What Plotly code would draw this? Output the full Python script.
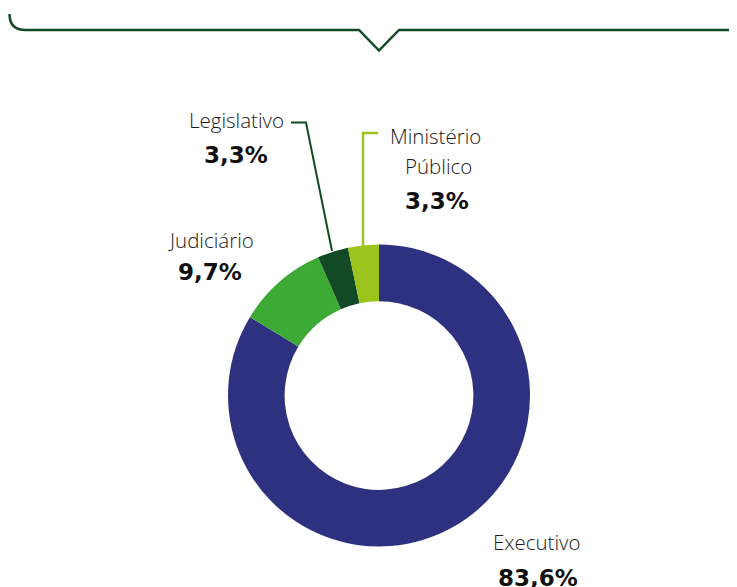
import plotly.graph_objects as go

# ---- data ----
labels = ["Executivo", "Judiciário", "Legislativo", "Ministério Público"]
values = [83.6, 9.7, 3.3, 3.3]
colors = ["#2D3180", "#3DAA35", "#114A24", "#9DC41C"]
label_lines = [["Executivo"], ["Judiciário"], ["Legislativo"], ["Ministério", "Público"]]

# page is rendered with an 8px body margin -> work in page pixels
OFF = 8
PW, PH = 737, 587
W, H = PW - OFF, PH - OFF
FONT_NAME = "Open Sans"
FONT_PCT = "DejaVu Sans"

def pct(v):
    return f"{v:.1f}".replace(".", ",") + "%"

# donut geometry (page pixels)
cx, cy, R = 379, 395.5, 151

fig = go.Figure()
fig.add_trace(go.Pie(
    labels=labels, values=values, sort=False, direction="clockwise", rotation=0,
    hole=0.625, marker=dict(colors=colors, line=dict(width=0)),
    textinfo="none", hoverinfo="label+percent", showlegend=False,
    domain=dict(x=[(cx - R - OFF) / W, (cx + R - OFF) / W],
                y=[1 - (cy + R - OFF) / H, 1 - (cy - R - OFF) / H]),
))

# label placement (page pixels): first name line centre, percent centre
name_pos = [(537, 542), (211, 240), (236.5, 120), (435, 136)]
pct_pos = [(538, 578), (210, 272), (236, 155), (437, 201)]
LINE = 30

ann = []
for lines, v, (nx, ny), (px, py) in zip(label_lines, values, name_pos, pct_pos):
    for i, ln in enumerate(lines):
        ann.append(dict(x=nx + (3 * i), y=ny + LINE * i, xref="x", yref="y", text=ln, showarrow=False,
                        font=dict(family=FONT_NAME, size=20.5, color="#1a1a1a", weight=300),
                        xanchor="center", yanchor="middle", align="center"))
    ann.append(dict(x=px, y=py, xref="x", yref="y", text=f"<b>{pct(v)}</b>", showarrow=False,
                    font=dict(family=FONT_PCT, size=23, color="#111111"),
                    xanchor="center", yanchor="middle"))

shapes = [
    # top bracket with notch
    dict(type="path", xref="x", yref="y",
         path="M 9.5 14 Q 9.5 30 25.5 30 L 359 30 L 379 50.5 L 399 30 L 732.5 30 Q 748.5 30 748.5 14",
         line=dict(color="#114A24", width=2.5)),
    # Legislativo leader
    dict(type="path", xref="x", yref="y", path="M 291 122.5 L 306 122.5 L 332 251",
         line=dict(color="#114A24", width=2)),
    # Ministério Público leader
    dict(type="path", xref="x", yref="y", path="M 378 133 L 363 133 L 363 246",
         line=dict(color="#9DC41C", width=2.5)),
]

fig.update_layout(
    width=W, height=H, margin=dict(l=0, r=0, t=0, b=0),
    paper_bgcolor="white", plot_bgcolor="rgba(0,0,0,0)",
    xaxis=dict(range=[OFF, PW], visible=False, fixedrange=True, domain=[0, 1]),
    yaxis=dict(range=[PH, OFF], visible=False, fixedrange=True, domain=[0, 1]),
    annotations=ann, shapes=shapes, showlegend=False,
)
fig.write_html("out.html")
